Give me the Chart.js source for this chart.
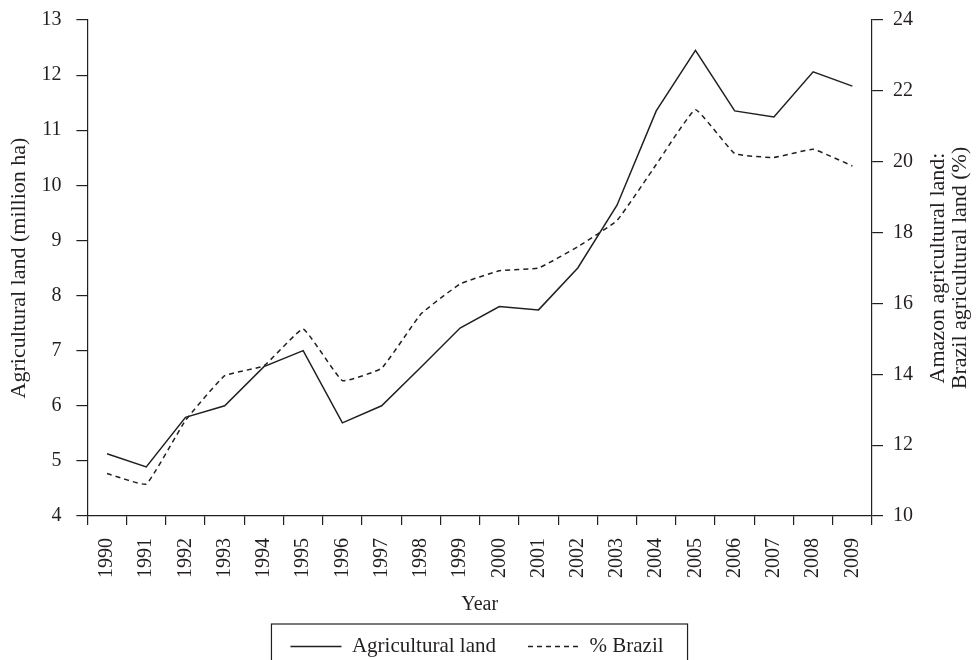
<!DOCTYPE html>
<html>
<head>
<meta charset="utf-8">
<script src="https://cdn.jsdelivr.net/npm/chart.js@4/dist/chart.umd.min.js"></script>
<style>
  html, body { margin: 0; padding: 0; background: #fff; }
  #wrap { width: 976px; height: 660px; }
</style>
</head>
<body>
<div id="wrap"><canvas id="chart"></canvas></div>
<script>
// Data
const years = ['1990', '1991', '1992', '1993', '1994', '1995', '1996', '1997', '1998', '1999',
               '2000', '2001', '2002', '2003', '2004', '2005', '2006', '2007', '2008', '2009'];
const agriculturalLand = [5.13, 4.89, 5.79, 6.0, 6.71, 7.0, 5.69, 6.0, 6.7, 7.41,
                          7.8, 7.74, 8.5, 9.64, 11.35, 12.45, 11.35, 11.24, 12.06, 11.8];
const pctBrazil = [11.2, 10.9, 12.7, 13.96, 14.24, 15.28, 13.82, 14.17, 15.7, 16.55,
                   16.92, 17.0, 17.6, 18.34, 19.92, 21.47, 20.23, 20.12, 20.35, 19.88];
const leftTicks = [4, 5, 6, 7, 8, 9, 10, 11, 12, 13];
const rightTicks = [10, 12, 14, 16, 18, 20, 22, 24];

const FONT = "'Liberation Serif', 'DejaVu Serif', serif";
const INK = '#231f20';

Chart.defaults.font.family = FONT;
Chart.defaults.color = INK;

// Box round the legend, as in the printed figure
const legendFrame = {
    id: 'legendFrame',
    afterDraw(chart) {
        const boxes = chart.legend.legendHitBoxes;
        if (!boxes || !boxes.length) return;
        const left = Math.min(...boxes.map(b => b.left)) - 19;
        const right = Math.max(...boxes.map(b => b.left + b.width)) + 24;
        const top = boxes[0].top - 12;
        const ctx = chart.ctx;
        ctx.save();
        ctx.strokeStyle = INK;
        ctx.lineWidth = 1.2;
        ctx.strokeRect(left, top, right - left, chart.height - top + 20);
        ctx.restore();
    }
};

// Right axis title reads bottom to top, so draw it by hand
const rightTitle = {
    id: 'rightTitle',
    afterDraw(chart) {
        const area = chart.chartArea;
        const ctx = chart.ctx;
        ctx.save();
        ctx.translate(0, (area.top + area.bottom) / 2);
        ctx.rotate(-Math.PI / 2);
        ctx.fillStyle = INK;
        ctx.font = '22px ' + FONT;
        ctx.textAlign = 'center';
        ctx.textBaseline = 'middle';
        ctx.fillText('Amazon agricultural land:', 0, 938);
        ctx.fillText('Brazil agricultural land (%)', 0, 960);
        ctx.restore();
    }
};

const ctx = document.getElementById('chart').getContext('2d');
new Chart(ctx, {
    type: 'line',
    data: {
        labels: years,
        datasets: [{
            label: 'Agricultural land',
            data: agriculturalLand,
            yAxisID: 'y',
            borderColor: INK,
            backgroundColor: INK,
            borderWidth: 1.5,
            pointRadius: 0,
            tension: 0
        }, {
            label: '% Brazil',
            data: pctBrazil,
            yAxisID: 'y2',
            borderColor: INK,
            backgroundColor: INK,
            borderWidth: 1.5,
            borderDash: [5, 4],
            pointRadius: 0,
            tension: 0.1
        }]
    },
    options: {
        responsive: true,
        maintainAspectRatio: false,
        animation: false,
        layout: {
            padding: { top: 4, right: 26, left: 4, bottom: -7 }
        },
        plugins: {
            legend: {
                position: 'bottom',
                labels: {
                    usePointStyle: true,
                    pointStyle: 'line',
                    pointStyleWidth: 51,
                    boxHeight: 14,
                    padding: 32,
                    color: INK,
                    font: { size: 21, family: FONT },
                    generateLabels: chart => {
                        const items = Chart.defaults.plugins.legend.labels.generateLabels(chart);
                        items.forEach(it => {
                            const ds = chart.data.datasets[it.datasetIndex];
                            it.lineDash = ds.borderDash || [];
                            it.lineWidth = 1.5;
                            it.strokeStyle = INK;
                        });
                        return items;
                    }
                }
            },
            tooltip: { enabled: false }
        },
        scales: {
            x: {
                offset: true,
                border: { color: INK, width: 1.2 },
                grid: { offset: true, drawOnChartArea: false, tickLength: 9, color: INK, lineWidth: 1.2 },
                ticks: { minRotation: 90, maxRotation: 90, padding: 13, font: { size: 20 }, color: INK },
                title: { display: true, text: 'Year', font: { size: 20 }, color: INK, padding: { top: 2, bottom: -13 } }
            },
            y: {
                position: 'left',
                min: 4,
                max: 13,
                afterBuildTicks: axis => { axis.ticks = leftTicks.map(v => ({ value: v })); },
                border: { color: INK, width: 1.2 },
                grid: { drawOnChartArea: false, tickLength: 11, color: INK, lineWidth: 1.2 },
                ticks: { padding: 15, font: { size: 20, lineHeight: 0.5 }, color: INK },
                title: { display: true, text: 'Agricultural land (million ha)', font: { size: 22 }, color: INK, padding: { top: 2, bottom: -6 } }
            },
            y2: {
                position: 'right',
                min: 10,
                max: 24,
                afterBuildTicks: axis => { axis.ticks = rightTicks.map(v => ({ value: v })); },
                afterFit: axis => { axis.width = 78; },
                border: { color: INK, width: 1.2 },
                grid: { drawOnChartArea: false, tickLength: 11, color: INK, lineWidth: 1.2 },
                ticks: { padding: 10, font: { size: 20, lineHeight: 0.5 }, color: INK }
            }
        }
    },
    plugins: [legendFrame, rightTitle]
});
</script>
</body>
</html>
